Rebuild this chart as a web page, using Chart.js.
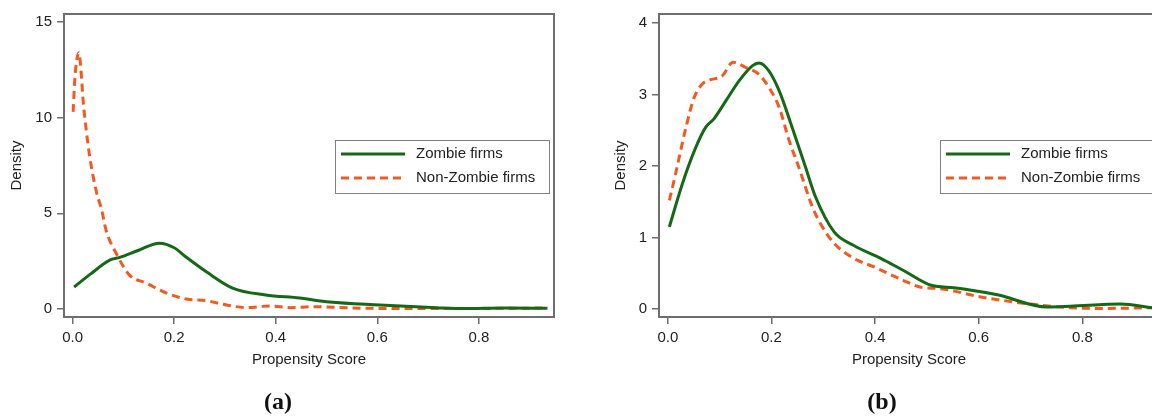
<!DOCTYPE html>
<html>
<head>
<meta charset="utf-8">
<script src="https://cdn.jsdelivr.net/npm/chart.js@4/dist/chart.umd.min.js"></script>
<style>
  html, body { margin: 0; padding: 0; background: #fff; overflow: hidden; width: 1152px; height: 416px; }
  canvas { position: absolute; top: 0; }
  #chartA { left: 0; }
  #chartB { left: 580px; }
  .cap { position: absolute; top: 388px; width: 60px; text-align: center; font: bold 24px 'Liberation Serif', 'Times New Roman', serif; color: #111; }
</style>
</head>
<body>
<canvas id="chartA" width="580" height="416"></canvas>
<canvas id="chartB" width="600" height="416"></canvas>
<div class="cap" style="left:248px">(a)</div>
<div class="cap" style="left:852px">(b)</div>
<script>
// panel (a)
const zombieAx = [0.003, 0.035, 0.073, 0.093, 0.13, 0.171, 0.2, 0.224, 0.264, 0.315, 0.38, 0.447, 0.506, 0.605, 0.717, 0.77, 0.85, 0.935]
const zombieAy = [1.15, 1.82, 2.55, 2.7, 3.07, 3.44, 3.2, 2.7, 1.93, 1.09, 0.73, 0.57, 0.36, 0.21, 0.07, 0.02, 0.05, 0.04]
const nonZombieAx = [0.001, 0.004, 0.007, 0.012, 0.017, 0.02, 0.027, 0.034, 0.047, 0.057, 0.066, 0.086, 0.112, 0.145, 0.185, 0.224, 0.264, 0.303, 0.342, 0.388, 0.43, 0.474, 0.54, 0.605, 0.7, 0.8, 0.935]
const nonZombieAy = [10.3, 11.9, 12.8, 13.4, 12.3, 11.1, 9.3, 7.9, 6.1, 5.2, 4.1, 2.9, 1.77, 1.35, 0.83, 0.52, 0.43, 0.21, 0.07, 0.16, 0.07, 0.12, 0.06, 0.03, 0.03, 0.03, 0.05]
const yTicksA = [0, 5, 10, 15]

// panel (b)
const zombieBx = [0.003, 0.028, 0.054, 0.073, 0.089, 0.112, 0.1375, 0.163, 0.176, 0.195, 0.215, 0.24, 0.266, 0.285, 0.321, 0.359, 0.411, 0.455, 0.51, 0.552, 0.636, 0.732, 0.777, 0.874, 0.935]
const zombieBy = [1.15, 1.75, 2.26, 2.54, 2.66, 2.91, 3.19, 3.4, 3.44, 3.33, 3.05, 2.54, 1.98, 1.57, 1.08, 0.89, 0.71, 0.54, 0.33, 0.3, 0.2, 0.03, 0.04, 0.07, 0.02]
const nonZombieBx = [0.003, 0.015, 0.035, 0.051, 0.067, 0.08, 0.105, 0.126, 0.15, 0.176, 0.195, 0.215, 0.234, 0.253, 0.279, 0.295, 0.321, 0.359, 0.398, 0.455, 0.492, 0.52, 0.604, 0.713, 0.777, 0.841, 0.935]
const nonZombieBy = [1.52, 1.89, 2.54, 2.96, 3.15, 3.2, 3.26, 3.45, 3.38, 3.28, 3.1, 2.82, 2.36, 1.98, 1.43, 1.19, 0.92, 0.71, 0.59, 0.4, 0.3, 0.29, 0.17, 0.06, 0.02, 0.01, 0.02]
const yTicksB = [0, 1, 2, 3, 4]

const xTicks = [0, 0.2, 0.4, 0.6, 0.8]
const seriesNames = ['Zombie firms', 'Non-Zombie firms']

const green = '#156815'
const orange = '#f25a22'
const frameColor = '#6e6e6e'
const textColor = '#222'
const font = { family: "'Liberation Sans', Arial, sans-serif", size: 15 }

const toPoints = (xs, ys) => xs.map((x, i) => ({ x, y: ys[i] }))

// frame round the plot area + legend box inside it
const frameAndLegend = {
  id: 'frameAndLegend',
  afterDraw(chart) {
    const { ctx, chartArea: a } = chart
    ctx.save()
    ctx.strokeStyle = frameColor
    ctx.lineWidth = 2
    ctx.strokeRect(a.left, a.top, a.right - a.left, a.bottom - a.top)
    const right = a.right - 5
    const left = right - 214
    const top = a.top + 126
    ctx.fillStyle = '#fff'
    ctx.fillRect(left, top, 214, 53)
    ctx.lineWidth = 1
    ctx.strokeStyle = '#808080'
    ctx.strokeRect(left + 0.5, top + 0.5, 214, 53)
    chart.data.datasets.forEach((ds, i) => {
      const y = top + 14 + i * 24
      ctx.strokeStyle = ds.borderColor
      ctx.lineWidth = ds.borderWidth
      ctx.setLineDash(ds.borderDash || [])
      ctx.beginPath()
      ctx.moveTo(left + 6, y)
      ctx.lineTo(left + 70, y)
      ctx.stroke()
      ctx.setLineDash([])
      ctx.fillStyle = textColor
      ctx.font = `${font.size}px ${font.family}`
      ctx.textBaseline = 'middle'
      ctx.fillText(ds.label, left + 81, y)
    })
    ctx.restore()
  }
}

const makeChart = (id, zx, zy, nx, ny, yMin, yMax, yTicks, yWidth, yTitlePad, padRight) => {
  new Chart(id, {
    type: 'line',
    data: {
      datasets: [{
        label: seriesNames[0],
        data: toPoints(zx, zy),
        borderColor: green,
        borderWidth: 3,
        pointRadius: 0,
        cubicInterpolationMode: 'monotone'
      }, {
        label: seriesNames[1],
        data: toPoints(nx, ny),
        borderColor: orange,
        borderWidth: 3,
        borderDash: [8, 5],
        pointRadius: 0,
        cubicInterpolationMode: 'monotone'
      }]
    },
    options: {
      responsive: false,
      animation: false,
      layout: { padding: { top: 13, right: padRight, bottom: 39, left: 0 } },
      plugins: { legend: { display: false }, tooltip: { enabled: false } },
      scales: {
        x: {
          type: 'linear',
          min: -0.017,
          max: 0.948,
          afterBuildTicks: s => { s.ticks = xTicks.map(v => ({ value: v })) },
          afterFit: s => { s.height = 60 },
          ticks: { callback: v => v.toFixed(1), font, color: textColor, padding: 5, maxRotation: 0, autoSkip: false },
          grid: { drawOnChartArea: false, drawTicks: true, tickLength: 7, color: frameColor, lineWidth: 1.5 },
          border: { display: false },
          title: { display: true, text: 'Propensity Score', font, color: textColor, padding: { top: 0, bottom: 8 } }
        },
        y: {
          min: yMin,
          max: yMax,
          afterBuildTicks: s => { s.ticks = yTicks.map(v => ({ value: v })) },
          afterFit: s => { s.width = yWidth },
          ticks: { font, color: textColor, padding: 5 },
          grid: { drawOnChartArea: false, drawTicks: true, tickLength: 7, color: frameColor, lineWidth: 1.5 },
          border: { display: false },
          title: { display: true, text: 'Density', font, color: textColor, padding: { top: yTitlePad, bottom: 0 } }
        }
      }
    },
    plugins: [frameAndLegend]
  })
}

makeChart('chartA', zombieAx, zombieAy, nonZombieAx, nonZombieAy, -0.42, 15.42, yTicksA, 64, 8, 26)
makeChart('chartB', zombieBx, zombieBy, nonZombieBx, nonZombieBy, -0.11, 4.125, yTicksB, 79, 32, 21)
</script>
</body>
</html>
